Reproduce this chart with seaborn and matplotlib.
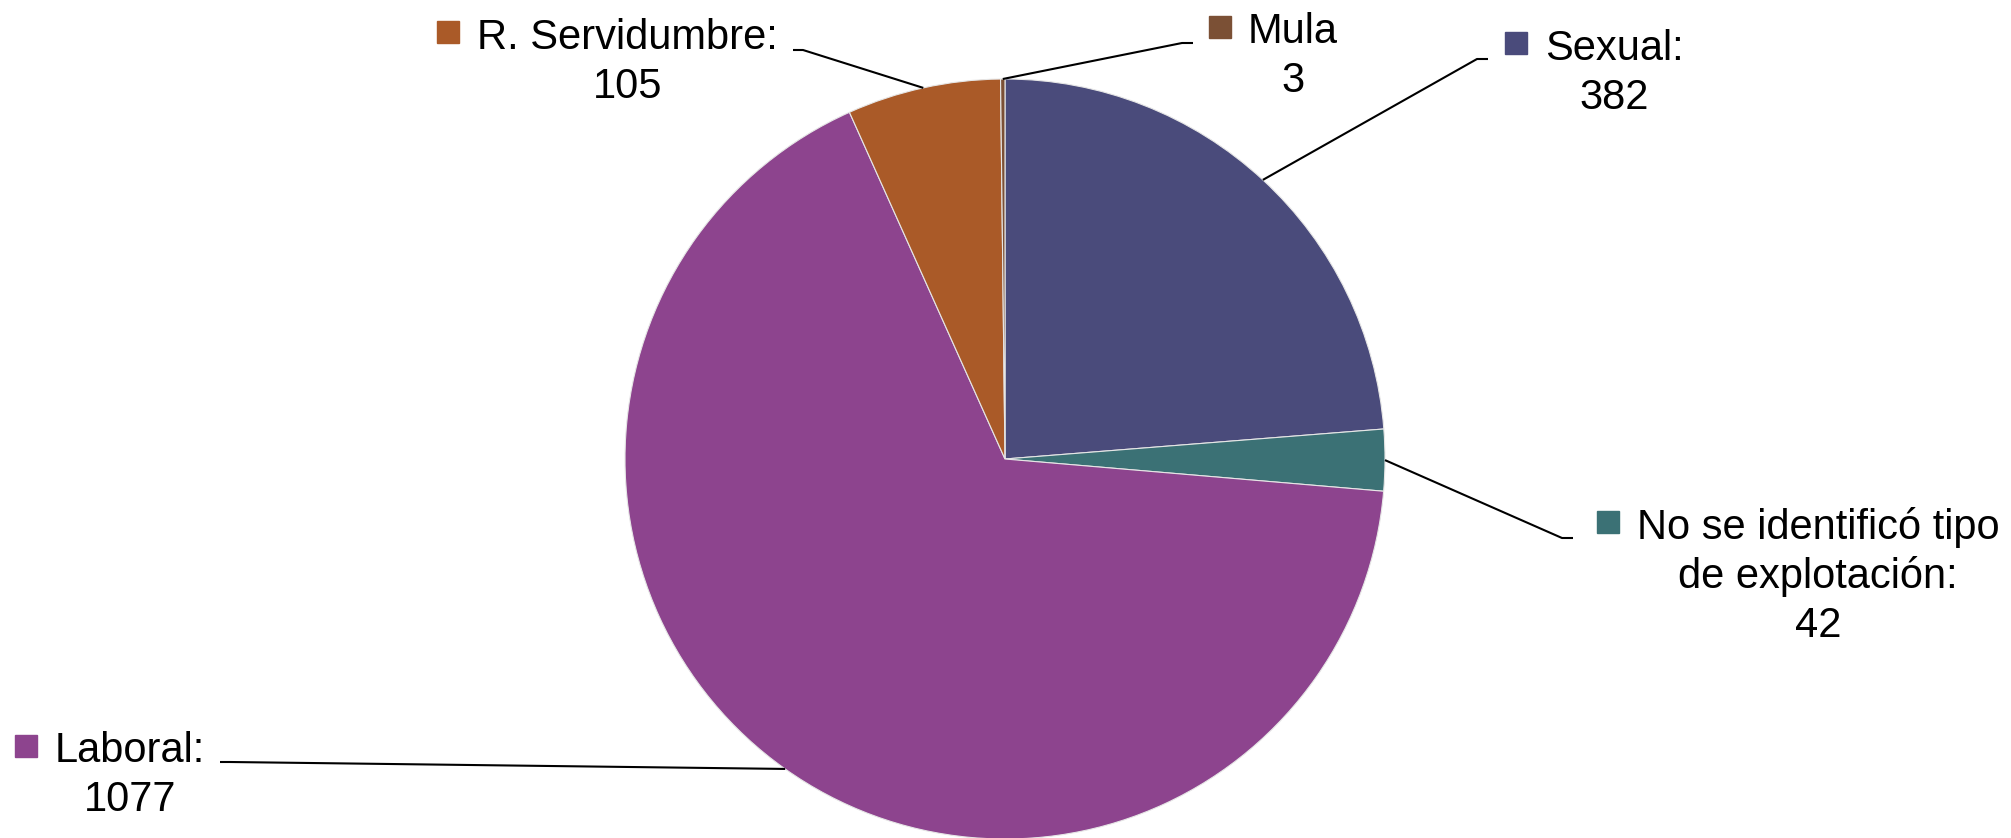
import numpy as np
import matplotlib
matplotlib.use("Agg")
import matplotlib.pyplot as plt
import seaborn as sns

# data
categories = ["Sexual", "No se identificó tipo de explotación", "Laboral", "R. Servidumbre", "Mula"]
values = [382, 42, 1077, 105, 3]
label_lines = [
    ["Sexual:", "382"],
    ["No se identificó tipo", "de explotación:", "42"],
    ["Laboral:", "1077"],
    ["R. Servidumbre:", "105"],
    ["Mula", "3"],
]
colors = ["#4a4b7b", "#3b7175", "#8d448e", "#aa5a28", "#7b5035"]

sns.set_theme(style="white")
plt.rcParams["font.family"] = ["Liberation Sans", "DejaVu Sans"]

W, H = 2011, 838
fig = plt.figure(figsize=(W / 100, H / 100), dpi=100)
ax = fig.add_axes([0, 0, 1, 1])

cx, cy, r = 1005, H - 459, 380
wedges, _ = ax.pie(values, colors=colors, startangle=90, counterclock=False,
                   center=(cx, cy), radius=r,
                   wedgeprops=dict(edgecolor="#e6e6e6", linewidth=0.8))
ax.set_xlim(0, W)
ax.set_ylim(0, H)
ax.set_aspect("equal")
ax.axis("off")

# label layout (pixel coords, y from top): text left x, first baseline, square x, elbow, end
layout = [
    dict(tx=1545, by=60, sq=(1516, 43), elbow=(1477, 59), end=(1488, 59)),
    dict(tx=1637, by=539, sq=(1608, 522), elbow=(1562, 538), end=(1573, 538)),
    dict(tx=55, by=762, sq=(26, 746), elbow=(230, 762), end=(220, 762)),
    dict(tx=477, by=49, sq=(448, 32), elbow=(803, 50), end=(793, 50)),
    dict(tx=1248, by=43, sq=(1220, 27), elbow=(1182, 43), end=(1193, 43)),
]

fs = 30
line_h = 49
for w, lines, col, lay in zip(wedges, label_lines, colors, layout):
    # leader line from wedge mid point on the rim
    ang = np.deg2rad((w.theta1 + w.theta2) / 2)
    ex, ey = cx + r * np.cos(ang), cy + r * np.sin(ang)
    xs = [ex, lay["elbow"][0], lay["end"][0]]
    ys = [ey, H - lay["elbow"][1], H - lay["end"][1]]
    ax.plot(xs, ys, color="black", lw=1.5, solid_capstyle="butt", zorder=3)

    # colour square
    ax.plot(lay["sq"][0], H - lay["sq"][1], marker="s", ms=15.5, color=col,
            mec=col, zorder=4)

    # text block, lines centred on the first line
    t0 = ax.text(lay["tx"], H - lay["by"], lines[0], fontsize=fs,
                 ha="left", va="baseline", color="black")
    fig.canvas.draw()
    bb = t0.get_window_extent()
    xc = (bb.x0 + bb.x1) / 2
    for i, ln in enumerate(lines[1:], start=1):
        ax.text(xc, H - lay["by"] - i * line_h, ln, fontsize=fs,
                ha="center", va="baseline", color="black")

fig.savefig("out.png", dpi=100, facecolor="white")
